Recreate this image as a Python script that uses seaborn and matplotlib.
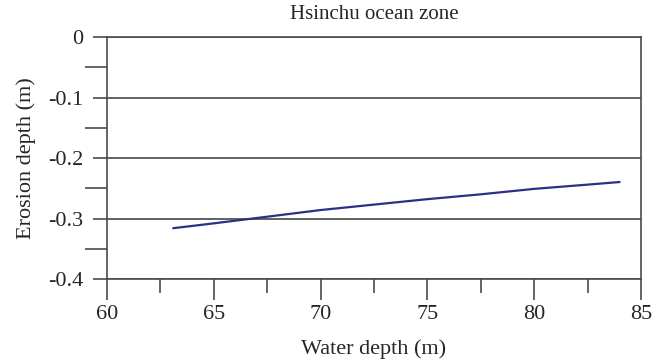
import numpy as np
import pandas as pd
import seaborn as sns
import matplotlib.pyplot as plt
from matplotlib.ticker import MultipleLocator, FuncFormatter

# values
water_depth = [63.1, 65.0, 67.5, 70.0, 72.5, 75.0, 77.5, 80.0, 82.5, 84.0]
erosion_depth = [-0.316, -0.308, -0.297, -0.286, -0.277, -0.268, -0.260, -0.251, -0.244, -0.2397]

df = pd.DataFrame({'water': water_depth, 'erosion': erosion_depth})

sns.set_style('white')
plt.rcParams['font.family'] = ['Liberation Serif', 'DejaVu Serif']
plt.rcParams['font.size'] = 15

fig = plt.figure(figsize=(6.65, 3.61), dpi=100)
ax = fig.add_axes([0.1609, 0.2271, 0.803, 0.6704])

sns.lineplot(x='water', y='erosion', data=df, ax=ax, color='#2b2f86', linewidth=1.6)

ax.set_xlim(60, 85)
ax.set_ylim(-0.4, 0)
ax.xaxis.set_major_locator(MultipleLocator(5))
ax.xaxis.set_minor_locator(MultipleLocator(2.5))
ax.yaxis.set_major_locator(MultipleLocator(0.1))
ax.yaxis.set_minor_locator(MultipleLocator(0.05))
ax.yaxis.set_major_formatter(FuncFormatter(lambda v, p: '0' if abs(v) < 1e-9 else ('%.1f' % v).replace('\u2212', '-')))

edge = '#4a4a4a'
ax.tick_params(axis='x', which='major', direction='out', length=15, width=1.2, color=edge, pad=4, labelsize=16)
ax.tick_params(axis='x', which='minor', direction='out', length=10, width=1.2, color=edge)
ax.tick_params(axis='y', which='major', direction='out', length=10, width=1.2, color=edge, pad=7, labelsize=16)
ax.tick_params(axis='y', which='minor', direction='out', length=16, width=1.2, color=edge)
ax.tick_params(axis='both', which='both', bottom=True, left=True, top=False, right=False)

for s in ax.spines.values():
    s.set_color(edge)
    s.set_linewidth(1.2)

ax.grid(True, axis='y', which='major', color='#555555', linewidth=1.3)
ax.grid(False, axis='x')

ax.set_title('Hsinchu ocean zone', fontsize=15, pad=13)
ax.set_xlabel('Water depth (m)', fontsize=16, labelpad=11)
ax.set_ylabel('Erosion depth (m)', fontsize=16, labelpad=9)

plt.savefig('out.png', dpi=100)
